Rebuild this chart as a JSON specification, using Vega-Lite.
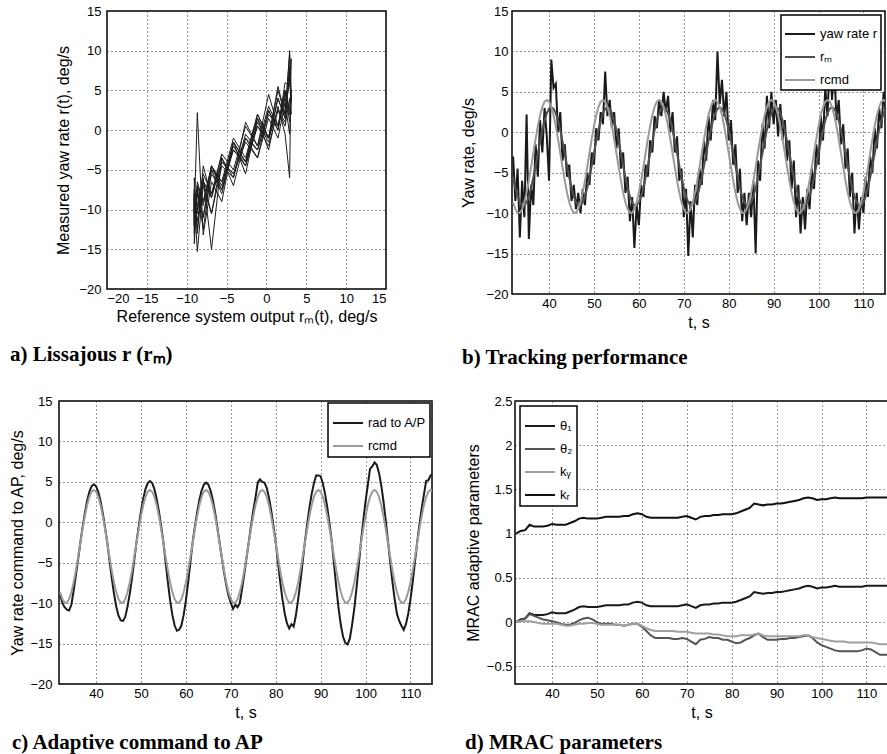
{
"$schema": "https://vega.github.io/schema/vega-lite/v6.json",
"background": "white",
"padding": {"left": 0, "top": 4, "right": 0, "bottom": 0},
"config": {
  "font": "Liberation Sans",
  "view": {"stroke": "black", "strokeWidth": 1.5},
  "axis": {"grid": true, "gridColor": "#333333", "gridDash": [1, 3], "gridWidth": 1, "ticks": false, "domain": false,
    "labelFont": "Liberation Sans", "labelFontSize": 13, "labelColor": "black", "labelPadding": 5,
    "titleFont": "Liberation Sans", "titleFontSize": 16, "titleFontWeight": "normal", "titleColor": "black", "titlePadding": 6},
  "legend": {"strokeColor": "black", "strokeWidth": 1.5, "fillColor": "white", "padding": 4, "offset": 4,
    "symbolType": "stroke", "symbolStrokeWidth": 2, "symbolSize": 900, "labelFont": "Liberation Sans", "labelFontSize": 13,
    "labelColor": "black", "labelOffset": 4, "rowPadding": 0, "title": null},
  "title": {"font": "Liberation Serif", "fontSize": 21, "fontWeight": "bold", "color": "black", "orient": "bottom", "anchor": "start", "frame": "group"}
},
"datasets": {
"ts": [
{"t":32,"rcmd":-8.66,"rm":-5.60,"r":-3.0,"rad":-8.9},
{"t":32.5,"rcmd":-9.51,"rm":-6.89,"r":-8.5,"rad":-10.0},
{"t":33,"rcmd":-9.94,"rm":-7.93,"r":-4.5,"rad":-10.5},
{"t":33.5,"rcmd":-9.94,"rm":-8.67,"r":-13.0,"rad":-10.8},
{"t":34,"rcmd":-9.51,"rm":-9.05,"r":-6.0,"rad":-10.9},
{"t":34.5,"rcmd":-8.66,"rm":-9.05,"r":-10.5,"rad":-10.2},
{"t":35,"rcmd":-7.46,"rm":-8.67,"r":2.2,"rad":-8.5},
{"t":35.5,"rcmd":-5.98,"rm":-7.93,"r":-13.2,"rad":-6.6},
{"t":36,"rcmd":-4.31,"rm":-6.89,"r":-6.5,"rad":-4.6},
{"t":36.5,"rcmd":-2.56,"rm":-5.60,"r":-9.0,"rad":-2.51},
{"t":37,"rcmd":-0.84,"rm":-4.14,"r":-1.5,"rad":-0.62},
{"t":37.5,"rcmd":0.75,"rm":-2.62,"r":-5.5,"rad":1.13},
{"t":38,"rcmd":2.10,"rm":-1.12,"r":1.5,"rad":2.61},
{"t":38.5,"rcmd":3.13,"rm":0.27,"r":-2.5,"rad":3.75},
{"t":39,"rcmd":3.78,"rm":1.45,"r":3.0,"rad":4.46},
{"t":39.5,"rcmd":4.00,"rm":2.34,"r":-0.5,"rad":4.70},
{"t":40,"rcmd":3.78,"rm":2.91,"r":-6.0,"rad":4.46},
{"t":40.5,"rcmd":3.13,"rm":3.10,"r":9.0,"rad":3.75},
{"t":41,"rcmd":2.10,"rm":2.91,"r":5.5,"rad":2.61},
{"t":41.5,"rcmd":0.75,"rm":2.34,"r":6.0,"rad":1.13},
{"t":42,"rcmd":-0.84,"rm":1.45,"r":0.0,"rad":-0.62},
{"t":42.5,"rcmd":-2.56,"rm":0.27,"r":2.5,"rad":-2.51},
{"t":43,"rcmd":-4.31,"rm":-1.12,"r":-3.5,"rad":-4.72},
{"t":43.5,"rcmd":-5.98,"rm":-2.62,"r":-1.5,"rad":-6.92},
{"t":44,"rcmd":-7.46,"rm":-4.14,"r":-5.5,"rad":-8.86},
{"t":44.5,"rcmd":-8.66,"rm":-5.60,"r":-4.0,"rad":-10.44},
{"t":45,"rcmd":-9.51,"rm":-6.89,"r":-8.5,"rad":-11.56},
{"t":45.5,"rcmd":-9.94,"rm":-7.93,"r":-6.5,"rad":-12.13},
{"t":46,"rcmd":-9.94,"rm":-8.67,"r":-9.5,"rad":-12.2},
{"t":46.5,"rcmd":-9.51,"rm":-9.05,"r":-7.5,"rad":-11.7},
{"t":47,"rcmd":-8.66,"rm":-9.05,"r":-10.0,"rad":-10.44},
{"t":47.5,"rcmd":-7.46,"rm":-8.67,"r":-7.0,"rad":-8.86},
{"t":48,"rcmd":-5.98,"rm":-7.93,"r":-9.0,"rad":-6.92},
{"t":48.5,"rcmd":-4.31,"rm":-6.89,"r":-5.0,"rad":-4.72},
{"t":49,"rcmd":-2.56,"rm":-5.60,"r":-6.5,"rad":-2.49},
{"t":49.5,"rcmd":-0.84,"rm":-4.14,"r":-2.5,"rad":-0.50},
{"t":50,"rcmd":0.75,"rm":-2.62,"r":-4.0,"rad":1.34},
{"t":50.5,"rcmd":2.10,"rm":-1.12,"r":0.5,"rad":2.90},
{"t":51,"rcmd":3.13,"rm":0.27,"r":-1.0,"rad":4.10},
{"t":51.5,"rcmd":3.78,"rm":1.45,"r":2.5,"rad":4.85},
{"t":52,"rcmd":4.00,"rm":2.34,"r":1.0,"rad":5.10},
{"t":52.5,"rcmd":3.78,"rm":2.91,"r":7.5,"rad":4.85},
{"t":53,"rcmd":3.13,"rm":3.10,"r":2.0,"rad":4.10},
{"t":53.5,"rcmd":2.10,"rm":2.91,"r":4.0,"rad":2.90},
{"t":54,"rcmd":0.75,"rm":2.34,"r":0.5,"rad":1.34},
{"t":54.5,"rcmd":-0.84,"rm":1.45,"r":2.5,"rad":-0.50},
{"t":55,"rcmd":-2.56,"rm":0.27,"r":-2.0,"rad":-2.49},
{"t":55.5,"rcmd":-4.31,"rm":-1.12,"r":0.5,"rad":-4.96},
{"t":56,"rcmd":-5.98,"rm":-2.62,"r":-4.5,"rad":-7.47},
{"t":56.5,"rcmd":-7.46,"rm":-4.14,"r":-2.5,"rad":-9.69},
{"t":57,"rcmd":-8.66,"rm":-5.60,"r":-7.5,"rad":-11.49},
{"t":57.5,"rcmd":-9.51,"rm":-6.89,"r":-5.5,"rad":-12.77},
{"t":58,"rcmd":-9.94,"rm":-7.93,"r":-11.0,"rad":-13.42},
{"t":58.5,"rcmd":-9.94,"rm":-8.67,"r":-8.0,"rad":-13.3},
{"t":59,"rcmd":-9.51,"rm":-9.05,"r":-14.3,"rad":-12.77},
{"t":59.5,"rcmd":-8.66,"rm":-9.05,"r":-9.0,"rad":-11.49},
{"t":60,"rcmd":-7.46,"rm":-8.67,"r":-11.5,"rad":-9.69},
{"t":60.5,"rcmd":-5.98,"rm":-7.93,"r":-6.5,"rad":-7.47},
{"t":61,"rcmd":-4.31,"rm":-6.89,"r":-8.0,"rad":-4.96},
{"t":61.5,"rcmd":-2.56,"rm":-5.60,"r":-4.0,"rad":-2.50},
{"t":62,"rcmd":-0.84,"rm":-4.14,"r":-5.5,"rad":-0.56},
{"t":62.5,"rcmd":0.75,"rm":-2.62,"r":-1.0,"rad":1.23},
{"t":63,"rcmd":2.10,"rm":-1.12,"r":-2.5,"rad":2.76},
{"t":63.5,"rcmd":3.13,"rm":0.27,"r":2.0,"rad":3.92},
{"t":64,"rcmd":3.78,"rm":1.45,"r":0.5,"rad":4.66},
{"t":64.5,"rcmd":4.00,"rm":2.34,"r":4.0,"rad":4.90},
{"t":65,"rcmd":3.78,"rm":2.91,"r":2.0,"rad":4.66},
{"t":65.5,"rcmd":3.13,"rm":3.10,"r":5.0,"rad":3.92},
{"t":66,"rcmd":2.10,"rm":2.91,"r":2.5,"rad":2.76},
{"t":66.5,"rcmd":0.75,"rm":2.34,"r":4.5,"rad":1.23},
{"t":67,"rcmd":-0.84,"rm":1.45,"r":0.0,"rad":-0.56},
{"t":67.5,"rcmd":-2.56,"rm":0.27,"r":2.5,"rad":-2.50},
{"t":68,"rcmd":-4.31,"rm":-1.12,"r":-2.5,"rad":-4.40},
{"t":68.5,"rcmd":-5.98,"rm":-2.62,"r":-0.5,"rad":-6.20},
{"t":69,"rcmd":-7.46,"rm":-4.14,"r":-6.0,"rad":-7.78},
{"t":69.5,"rcmd":-8.66,"rm":-5.60,"r":-4.5,"rad":-9.07},
{"t":70,"rcmd":-9.51,"rm":-6.89,"r":-10.5,"rad":-9.98},
{"t":70.5,"rcmd":-9.94,"rm":-7.93,"r":-7.0,"rad":-10.7},
{"t":71,"rcmd":-9.94,"rm":-8.67,"r":-15.3,"rad":-10.2},
{"t":71.5,"rcmd":-9.51,"rm":-9.05,"r":-8.5,"rad":-10.5},
{"t":72,"rcmd":-8.66,"rm":-9.05,"r":-13.0,"rad":-10.0},
{"t":72.5,"rcmd":-7.46,"rm":-8.67,"r":-6.5,"rad":-8.3},
{"t":73,"rcmd":-5.98,"rm":-7.93,"r":-9.0,"rad":-6.4},
{"t":73.5,"rcmd":-4.31,"rm":-6.89,"r":-4.5,"rad":-4.40},
{"t":74,"rcmd":-2.56,"rm":-5.60,"r":-6.5,"rad":-2.48},
{"t":74.5,"rcmd":-0.84,"rm":-4.14,"r":-1.0,"rad":-0.44},
{"t":75,"rcmd":0.75,"rm":-2.62,"r":-3.5,"rad":1.45},
{"t":75.5,"rcmd":2.10,"rm":-1.12,"r":2.0,"rad":3.05},
{"t":76,"rcmd":3.13,"rm":0.27,"r":-1.0,"rad":4.9},
{"t":76.5,"rcmd":3.78,"rm":1.45,"r":4.0,"rad":5.3},
{"t":77,"rcmd":4.00,"rm":2.34,"r":1.5,"rad":5.0},
{"t":77.5,"rcmd":3.78,"rm":2.91,"r":10.0,"rad":4.9},
{"t":78,"rcmd":3.13,"rm":3.10,"r":3.5,"rad":4.27},
{"t":78.5,"rcmd":2.10,"rm":2.91,"r":6.5,"rad":3.05},
{"t":79,"rcmd":0.75,"rm":2.34,"r":2.0,"rad":1.45},
{"t":79.5,"rcmd":-0.84,"rm":1.45,"r":5.0,"rad":-0.44},
{"t":80,"rcmd":-2.56,"rm":0.27,"r":-1.0,"rad":-2.48},
{"t":80.5,"rcmd":-4.31,"rm":-1.12,"r":1.5,"rad":-4.91},
{"t":81,"rcmd":-5.98,"rm":-2.62,"r":-4.0,"rad":-7.35},
{"t":81.5,"rcmd":-7.46,"rm":-4.14,"r":-1.5,"rad":-9.50},
{"t":82,"rcmd":-8.66,"rm":-5.60,"r":-7.5,"rad":-11.25},
{"t":82.5,"rcmd":-9.51,"rm":-6.89,"r":-4.5,"rad":-12.49},
{"t":83,"rcmd":-9.94,"rm":-7.93,"r":-11.0,"rad":-13.12},
{"t":83.5,"rcmd":-9.94,"rm":-8.67,"r":-7.5,"rad":-12.6},
{"t":84,"rcmd":-9.51,"rm":-9.05,"r":-11.5,"rad":-12.9},
{"t":84.5,"rcmd":-8.66,"rm":-9.05,"r":-7.5,"rad":-11.5},
{"t":85,"rcmd":-7.46,"rm":-8.67,"r":-10.5,"rad":-9.50},
{"t":85.5,"rcmd":-5.98,"rm":-7.93,"r":-6.0,"rad":-7.35},
{"t":86,"rcmd":-4.31,"rm":-6.89,"r":-15.0,"rad":-4.91},
{"t":86.5,"rcmd":-2.56,"rm":-5.60,"r":-3.5,"rad":-2.44},
{"t":87,"rcmd":-0.84,"rm":-4.14,"r":-6.0,"rad":-0.25},
{"t":87.5,"rcmd":0.75,"rm":-2.62,"r":1.0,"rad":1.77},
{"t":88,"rcmd":2.10,"rm":-1.12,"r":-2.0,"rad":3.49},
{"t":88.5,"rcmd":3.13,"rm":0.27,"r":4.5,"rad":4.80},
{"t":89,"rcmd":3.78,"rm":1.45,"r":0.5,"rad":5.8},
{"t":89.5,"rcmd":4.00,"rm":2.34,"r":5.0,"rad":5.8},
{"t":90,"rcmd":3.78,"rm":2.91,"r":1.0,"rad":5.7},
{"t":90.5,"rcmd":3.13,"rm":3.10,"r":4.0,"rad":4.80},
{"t":91,"rcmd":2.10,"rm":2.91,"r":-0.5,"rad":3.49},
{"t":91.5,"rcmd":0.75,"rm":2.34,"r":3.5,"rad":1.77},
{"t":92,"rcmd":-0.84,"rm":1.45,"r":-1.0,"rad":-0.25},
{"t":92.5,"rcmd":-2.56,"rm":0.27,"r":1.5,"rad":-2.44},
{"t":93,"rcmd":-4.31,"rm":-1.12,"r":-3.5,"rad":-5.24},
{"t":93.5,"rcmd":-5.98,"rm":-2.62,"r":-1.0,"rad":-8.11},
{"t":94,"rcmd":-7.46,"rm":-4.14,"r":-7.0,"rad":-10.64},
{"t":94.5,"rcmd":-8.66,"rm":-5.60,"r":-3.5,"rad":-12.71},
{"t":95,"rcmd":-9.51,"rm":-6.89,"r":-10.5,"rad":-14.16},
{"t":95.5,"rcmd":-9.94,"rm":-7.93,"r":-6.5,"rad":-14.90},
{"t":96,"rcmd":-9.94,"rm":-8.67,"r":-12.5,"rad":-15.1},
{"t":96.5,"rcmd":-9.51,"rm":-9.05,"r":-8.0,"rad":-14.4},
{"t":97,"rcmd":-8.66,"rm":-9.05,"r":-12.0,"rad":-12.71},
{"t":97.5,"rcmd":-7.46,"rm":-8.67,"r":-7.0,"rad":-10.64},
{"t":98,"rcmd":-5.98,"rm":-7.93,"r":-9.5,"rad":-8.11},
{"t":98.5,"rcmd":-4.31,"rm":-6.89,"r":-4.5,"rad":-5.24},
{"t":99,"rcmd":-2.56,"rm":-5.60,"r":-7.0,"rad":-2.34},
{"t":99.5,"rcmd":-0.84,"rm":-4.14,"r":-1.5,"rad":0.21},
{"t":100,"rcmd":0.75,"rm":-2.62,"r":-4.0,"rad":2.57},
{"t":100.5,"rcmd":2.10,"rm":-1.12,"r":2.0,"rad":4.58},
{"t":101,"rcmd":3.13,"rm":0.27,"r":-1.0,"rad":6.6},
{"t":101.5,"rcmd":3.78,"rm":1.45,"r":5.5,"rad":6.9},
{"t":102,"rcmd":4.00,"rm":2.34,"r":2.0,"rad":7.4},
{"t":102.5,"rcmd":3.78,"rm":2.91,"r":9.5,"rad":7.1},
{"t":103,"rcmd":3.13,"rm":3.10,"r":4.0,"rad":6.11},
{"t":103.5,"rcmd":2.10,"rm":2.91,"r":8.0,"rad":4.58},
{"t":104,"rcmd":0.75,"rm":2.34,"r":1.5,"rad":2.57},
{"t":104.5,"rcmd":-0.84,"rm":1.45,"r":4.0,"rad":0.21},
{"t":105,"rcmd":-2.56,"rm":0.27,"r":-1.5,"rad":-2.34},
{"t":105.5,"rcmd":-4.31,"rm":-1.12,"r":1.0,"rad":-4.93},
{"t":106,"rcmd":-5.98,"rm":-2.62,"r":-4.5,"rad":-7.39},
{"t":106.5,"rcmd":-7.46,"rm":-4.14,"r":-2.0,"rad":-9.56},
{"t":107,"rcmd":-8.66,"rm":-5.60,"r":-8.0,"rad":-11.33},
{"t":107.5,"rcmd":-9.51,"rm":-6.89,"r":-5.0,"rad":-12.2},
{"t":108,"rcmd":-9.94,"rm":-7.93,"r":-12.5,"rad":-12.8},
{"t":108.5,"rcmd":-9.94,"rm":-8.67,"r":-7.5,"rad":-13.3},
{"t":109,"rcmd":-9.51,"rm":-9.05,"r":-12.0,"rad":-12.6},
{"t":109.5,"rcmd":-8.66,"rm":-9.05,"r":-8.0,"rad":-11.33},
{"t":110,"rcmd":-7.46,"rm":-8.67,"r":-10.0,"rad":-9.56},
{"t":110.5,"rcmd":-5.98,"rm":-7.93,"r":-5.5,"rad":-7.39},
{"t":111,"rcmd":-4.31,"rm":-6.89,"r":-8.0,"rad":-4.93},
{"t":111.5,"rcmd":-2.56,"rm":-5.60,"r":-3.0,"rad":-2.45},
{"t":112,"rcmd":-0.84,"rm":-4.14,"r":-5.0,"rad":-0.28},
{"t":112.5,"rcmd":0.75,"rm":-2.62,"r":0.5,"rad":1.72},
{"t":113,"rcmd":2.10,"rm":-1.12,"r":-2.0,"rad":3.42},
{"t":113.5,"rcmd":3.13,"rm":0.27,"r":3.0,"rad":5.1},
{"t":114,"rcmd":3.78,"rm":1.45,"r":0.5,"rad":5.2},
{"t":114.5,"rcmd":4.00,"rm":2.34,"r":5.0,"rad":5.8},
{"t":115,"rcmd":3.78,"rm":2.91,"r":2.5,"rad":5.9}
],
"par": [
{"t":32,"th1":0.00,"th2":0.00,"ky":0.00,"kr":1.00},
{"t":33,"th1":0.03,"th2":0.02,"ky":0.01,"kr":1.03},
{"t":34,"th1":0.04,"th2":0.04,"ky":0.01,"kr":1.04},
{"t":35,"th1":0.10,"th2":0.09,"ky":0.01,"kr":1.10},
{"t":36,"th1":0.08,"th2":0.07,"ky":0.00,"kr":1.08},
{"t":37,"th1":0.08,"th2":0.05,"ky":-0.01,"kr":1.08},
{"t":38,"th1":0.08,"th2":0.03,"ky":-0.02,"kr":1.08},
{"t":39,"th1":0.09,"th2":0.02,"ky":-0.02,"kr":1.09},
{"t":40,"th1":0.11,"th2":0.01,"ky":-0.02,"kr":1.11},
{"t":41,"th1":0.10,"th2":0.00,"ky":-0.02,"kr":1.10},
{"t":42,"th1":0.10,"th2":-0.02,"ky":-0.03,"kr":1.10},
{"t":43,"th1":0.10,"th2":-0.03,"ky":-0.04,"kr":1.10},
{"t":44,"th1":0.12,"th2":-0.03,"ky":-0.04,"kr":1.12},
{"t":45,"th1":0.14,"th2":-0.01,"ky":-0.03,"kr":1.14},
{"t":46,"th1":0.17,"th2":0.02,"ky":-0.02,"kr":1.17},
{"t":47,"th1":0.18,"th2":0.04,"ky":-0.02,"kr":1.18},
{"t":48,"th1":0.17,"th2":0.05,"ky":-0.01,"kr":1.17},
{"t":49,"th1":0.17,"th2":0.03,"ky":-0.01,"kr":1.17},
{"t":50,"th1":0.17,"th2":0.00,"ky":-0.02,"kr":1.17},
{"t":51,"th1":0.18,"th2":-0.02,"ky":-0.03,"kr":1.18},
{"t":52,"th1":0.19,"th2":-0.02,"ky":-0.03,"kr":1.19},
{"t":53,"th1":0.19,"th2":-0.02,"ky":-0.03,"kr":1.19},
{"t":54,"th1":0.19,"th2":-0.03,"ky":-0.03,"kr":1.19},
{"t":55,"th1":0.19,"th2":-0.03,"ky":-0.03,"kr":1.19},
{"t":56,"th1":0.20,"th2":-0.04,"ky":-0.04,"kr":1.20},
{"t":57,"th1":0.20,"th2":-0.03,"ky":-0.03,"kr":1.20},
{"t":58,"th1":0.22,"th2":-0.02,"ky":-0.02,"kr":1.22},
{"t":59,"th1":0.23,"th2":-0.02,"ky":-0.02,"kr":1.23},
{"t":60,"th1":0.22,"th2":-0.05,"ky":-0.04,"kr":1.22},
{"t":61,"th1":0.19,"th2":-0.10,"ky":-0.07,"kr":1.19},
{"t":62,"th1":0.18,"th2":-0.15,"ky":-0.09,"kr":1.18},
{"t":63,"th1":0.18,"th2":-0.18,"ky":-0.10,"kr":1.18},
{"t":64,"th1":0.18,"th2":-0.18,"ky":-0.10,"kr":1.18},
{"t":65,"th1":0.18,"th2":-0.18,"ky":-0.10,"kr":1.18},
{"t":66,"th1":0.18,"th2":-0.18,"ky":-0.10,"kr":1.18},
{"t":67,"th1":0.18,"th2":-0.19,"ky":-0.10,"kr":1.18},
{"t":68,"th1":0.18,"th2":-0.19,"ky":-0.11,"kr":1.18},
{"t":69,"th1":0.19,"th2":-0.18,"ky":-0.11,"kr":1.19},
{"t":70,"th1":0.20,"th2":-0.19,"ky":-0.11,"kr":1.20},
{"t":71,"th1":0.18,"th2":-0.22,"ky":-0.12,"kr":1.18},
{"t":72,"th1":0.16,"th2":-0.25,"ky":-0.13,"kr":1.16},
{"t":73,"th1":0.19,"th2":-0.20,"ky":-0.13,"kr":1.19},
{"t":74,"th1":0.20,"th2":-0.19,"ky":-0.13,"kr":1.20},
{"t":75,"th1":0.20,"th2":-0.17,"ky":-0.13,"kr":1.20},
{"t":76,"th1":0.21,"th2":-0.18,"ky":-0.14,"kr":1.21},
{"t":77,"th1":0.21,"th2":-0.18,"ky":-0.14,"kr":1.21},
{"t":78,"th1":0.22,"th2":-0.20,"ky":-0.15,"kr":1.22},
{"t":79,"th1":0.22,"th2":-0.20,"ky":-0.16,"kr":1.22},
{"t":80,"th1":0.22,"th2":-0.22,"ky":-0.16,"kr":1.22},
{"t":81,"th1":0.23,"th2":-0.24,"ky":-0.16,"kr":1.23},
{"t":82,"th1":0.25,"th2":-0.23,"ky":-0.15,"kr":1.25},
{"t":83,"th1":0.27,"th2":-0.20,"ky":-0.15,"kr":1.27},
{"t":84,"th1":0.29,"th2":-0.18,"ky":-0.15,"kr":1.29},
{"t":85,"th1":0.34,"th2":-0.15,"ky":-0.14,"kr":1.34},
{"t":86,"th1":0.33,"th2":-0.13,"ky":-0.13,"kr":1.33},
{"t":87,"th1":0.32,"th2":-0.17,"ky":-0.15,"kr":1.32},
{"t":88,"th1":0.33,"th2":-0.20,"ky":-0.16,"kr":1.33},
{"t":89,"th1":0.33,"th2":-0.20,"ky":-0.16,"kr":1.33},
{"t":90,"th1":0.34,"th2":-0.20,"ky":-0.16,"kr":1.34},
{"t":91,"th1":0.34,"th2":-0.19,"ky":-0.16,"kr":1.34},
{"t":92,"th1":0.35,"th2":-0.19,"ky":-0.16,"kr":1.35},
{"t":93,"th1":0.36,"th2":-0.18,"ky":-0.16,"kr":1.36},
{"t":94,"th1":0.37,"th2":-0.18,"ky":-0.16,"kr":1.37},
{"t":95,"th1":0.38,"th2":-0.17,"ky":-0.16,"kr":1.38},
{"t":96,"th1":0.40,"th2":-0.16,"ky":-0.15,"kr":1.40},
{"t":97,"th1":0.41,"th2":-0.15,"ky":-0.15,"kr":1.41},
{"t":98,"th1":0.40,"th2":-0.18,"ky":-0.17,"kr":1.40},
{"t":99,"th1":0.38,"th2":-0.23,"ky":-0.18,"kr":1.38},
{"t":100,"th1":0.39,"th2":-0.26,"ky":-0.19,"kr":1.39},
{"t":101,"th1":0.39,"th2":-0.28,"ky":-0.20,"kr":1.39},
{"t":102,"th1":0.40,"th2":-0.30,"ky":-0.21,"kr":1.40},
{"t":103,"th1":0.41,"th2":-0.32,"ky":-0.22,"kr":1.41},
{"t":104,"th1":0.40,"th2":-0.33,"ky":-0.22,"kr":1.40},
{"t":105,"th1":0.40,"th2":-0.33,"ky":-0.22,"kr":1.40},
{"t":106,"th1":0.40,"th2":-0.33,"ky":-0.23,"kr":1.40},
{"t":107,"th1":0.40,"th2":-0.33,"ky":-0.23,"kr":1.40},
{"t":108,"th1":0.40,"th2":-0.33,"ky":-0.23,"kr":1.40},
{"t":109,"th1":0.40,"th2":-0.32,"ky":-0.23,"kr":1.40},
{"t":110,"th1":0.41,"th2":-0.30,"ky":-0.23,"kr":1.41},
{"t":111,"th1":0.41,"th2":-0.31,"ky":-0.23,"kr":1.41},
{"t":112,"th1":0.41,"th2":-0.34,"ky":-0.24,"kr":1.41},
{"t":113,"th1":0.41,"th2":-0.37,"ky":-0.25,"kr":1.41},
{"t":114,"th1":0.41,"th2":-0.37,"ky":-0.25,"kr":1.41},
{"t":115,"th1":0.41,"th2":-0.37,"ky":-0.25,"kr":1.41}
]
},
"resolve": {"scale": {"color": "independent"}, "legend": {"color": "independent"}},
"spacing": 25,
"vconcat": [
{
 "spacing": 8,
 "resolve": {"scale": {"color": "independent"}, "legend": {"color": "independent"}},
 "hconcat": [
  {"width": 1, "height": 1, "view": {"stroke": null}, "data": {"values": []}, "mark": "point"},
  {
   "spacing": 73,
   "resolve": {"scale": {"color": "independent"}, "legend": {"color": "independent"}},
   "hconcat": [
    {
     "width": 279, "height": 278,
     "data": {"name": "ts"},
     "title": {"text": "a) Lissajous r (rₘ)", "dx": -97, "offset": 20},
     "mark": {"type": "line", "color": "#1e1e1e", "strokeWidth": 1, "clip": true},
     "encoding": {
       "x": {"field": "rm", "type": "quantitative", "scale": {"domain": [-20, 15], "nice": false, "zero": false},
         "axis": {"values": [-20, -15, -10, -5, 0, 5, 10, 15], "title": "Reference system output rₘ(t), deg/s", "labelPadding": 3, "titlePadding": 3}},
       "y": {"field": "r", "type": "quantitative", "scale": {"domain": [-20, 15], "nice": false, "zero": false},
         "axis": {"values": [-20, -15, -10, -5, 0, 5, 10, 15], "title": "Measured yaw rate r(t), deg/s", "labelPadding": 6, "titlePadding": 7}},
       "order": {"field": "t", "type": "quantitative"}
     }
    },
    {
     "width": 373, "height": 283,
     "data": {"name": "ts"},
     "title": {"text": "b) Tracking performance", "dx": -50, "offset": 17},
     "encoding": {
       "x": {"field": "t", "type": "quantitative", "scale": {"domain": [31.75, 114.8], "nice": false, "zero": false},
         "axis": {"values": [40, 50, 60, 70, 80, 90, 100, 110], "title": "t, s", "labelPadding": 3, "titlePadding": 4}}
     },
     "layer": [
      {"mark": {"type": "line", "strokeWidth": 2, "clip": true},
       "encoding": {
         "y": {"field": "r", "type": "quantitative", "title": "Yaw rate, deg/s", "scale": {"domain": [-20, 15], "nice": false, "zero": false},
           "axis": {"values": [-20, -15, -10, -5, 0, 5, 10, 15], "labelPadding": 4, "titlePadding": 9}},
         "color": {"datum": "yaw rate r", "type": "nominal",
           "scale": {"domain": ["yaw rate r", "rₘ", "rcmd"], "range": ["#1a1a1a", "#505050", "#9a9a9a"]},
           "legend": {"orient": "top-right", "offset": 4, "padding": 3}}
       }},
      {"mark": {"type": "line", "strokeWidth": 2, "clip": true},
       "encoding": {
         "y": {"field": "rm", "type": "quantitative", "title": "Yaw rate, deg/s"},
         "color": {"datum": "rₘ", "type": "nominal"}
       }},
      {"mark": {"type": "line", "strokeWidth": 2, "clip": true},
       "encoding": {
         "y": {"field": "rcmd", "type": "quantitative", "title": "Yaw rate, deg/s"},
         "color": {"datum": "rcmd", "type": "nominal"}
       }}
     ]
    }
   ]
  }
 ]
},
{
 "spacing": 8,
 "resolve": {"scale": {"color": "independent"}, "legend": {"color": "independent"}},
 "hconcat": [
  {"width": 1, "height": 1, "view": {"stroke": null}, "data": {"values": []}, "mark": "point"},
  {
   "spacing": 31,
   "resolve": {"scale": {"color": "independent"}, "legend": {"color": "independent"}},
   "hconcat": [
    {
     "width": 373, "height": 283,
     "data": {"name": "ts"},
     "title": {"text": "c) Adaptive command to AP", "dx": -47, "offset": 12},
     "encoding": {
       "x": {"field": "t", "type": "quantitative", "scale": {"domain": [31.75, 114.8], "nice": false, "zero": false},
         "axis": {"values": [40, 50, 60, 70, 80, 90, 100, 110], "title": "t, s", "labelPadding": 3, "titlePadding": 4}}
     },
     "layer": [
      {"mark": {"type": "line", "strokeWidth": 2, "clip": true},
       "encoding": {
         "y": {"field": "rad", "type": "quantitative", "title": "Yaw rate command to AP, deg/s", "scale": {"domain": [-20, 15], "nice": false, "zero": false},
           "axis": {"values": [-20, -15, -10, -5, 0, 5, 10, 15], "labelPadding": 7, "titlePadding": 4}},
         "color": {"datum": "rad to A/P", "type": "nominal",
           "scale": {"domain": ["rad to A/P", "rcmd"], "range": ["#1a1a1a", "#9a9a9a"]},
           "legend": {"orient": "top-right", "offset": 2}}
       }},
      {"mark": {"type": "line", "strokeWidth": 2, "clip": true},
       "encoding": {
         "y": {"field": "rcmd", "type": "quantitative", "title": "Yaw rate command to AP, deg/s"},
         "color": {"datum": "rcmd", "type": "nominal"}
       }}
     ]
    },
    {
     "width": 373, "height": 283,
     "data": {"name": "par"},
     "title": {"text": "d) MRAC parameters", "dx": -50, "offset": 12},
     "encoding": {
       "x": {"field": "t", "type": "quantitative", "scale": {"domain": [31.75, 114.8], "nice": false, "zero": false},
         "axis": {"values": [40, 50, 60, 70, 80, 90, 100, 110], "title": "t, s", "labelPadding": 3, "titlePadding": 4}}
     },
     "layer": [
      {"mark": {"type": "line", "strokeWidth": 2, "clip": true},
       "encoding": {
         "y": {"field": "th1", "type": "quantitative", "title": "MRAC adaptive parameters", "scale": {"domain": [-0.7, 2.5], "nice": false, "zero": false},
           "axis": {"values": [-0.5, 0, 0.5, 1, 1.5, 2, 2.5], "format": "~g", "labelPadding": 3, "titlePadding": 5}},
         "color": {"datum": "θ₁", "type": "nominal",
           "scale": {"domain": ["θ₁", "θ₂", "kᵧ", "kᵣ"], "range": ["#1a1a1a", "#555555", "#a0a0a0", "#111111"]},
           "legend": {"orient": "top-left", "offset": 5}}
       }},
      {"mark": {"type": "line", "strokeWidth": 2, "clip": true},
       "encoding": {
         "y": {"field": "th2", "type": "quantitative", "title": "MRAC adaptive parameters"},
         "color": {"datum": "θ₂", "type": "nominal"}
       }},
      {"mark": {"type": "line", "strokeWidth": 2, "clip": true},
       "encoding": {
         "y": {"field": "ky", "type": "quantitative", "title": "MRAC adaptive parameters"},
         "color": {"datum": "kᵧ", "type": "nominal"}
       }},
      {"mark": {"type": "line", "strokeWidth": 2, "clip": true},
       "encoding": {
         "y": {"field": "kr", "type": "quantitative", "title": "MRAC adaptive parameters"},
         "color": {"datum": "kᵣ", "type": "nominal"}
       }}
     ]
    }
   ]
  }
 ]
}
]
}
